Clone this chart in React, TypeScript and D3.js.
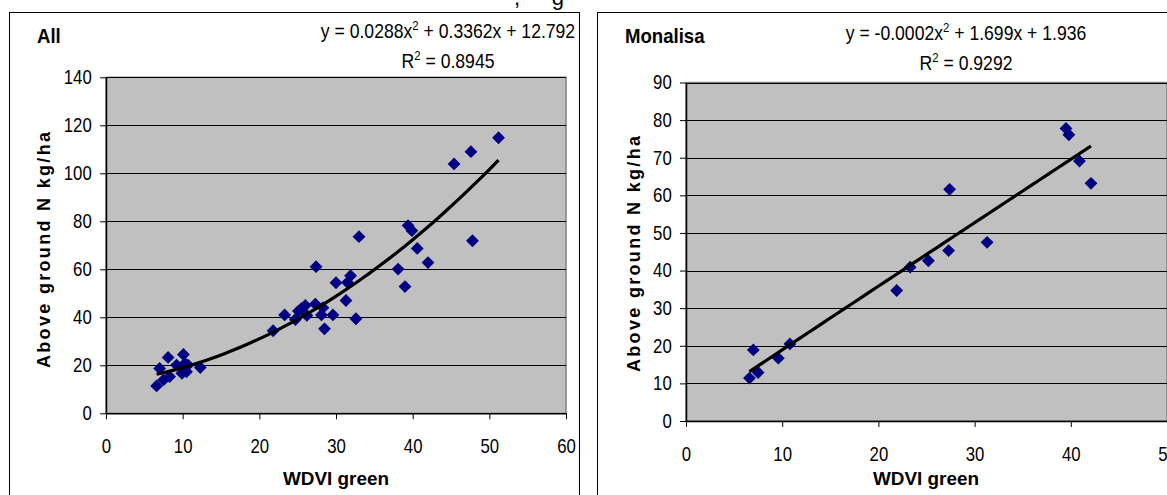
import React, { useEffect, useRef } from 'react';
import * as d3 from 'd3';

// WDVI green vs above ground N
const allWdvi = [6.6, 7.0, 7.5, 8.1, 8.3, 9.2, 9.9, 10.1, 10.3, 10.7, 10.5, 12.3, 21.8, 23.3, 24.7, 25.1, 25.5, 26.0, 26.2, 27.3, 27.4, 28.1, 28.3, 28.5, 29.6, 30.0, 31.3, 31.5, 31.9, 32.6, 33.0, 38.1, 39.0, 39.4, 39.9, 40.6, 42.0, 45.4, 47.6, 47.8, 51.2];
const allN = [11.4, 18.7, 13.9, 23.3, 15.3, 20.1, 16.7, 24.5, 20.8, 20.1, 17.3, 19.1, 34.4, 41.0, 39.1, 42.6, 43.7, 44.9, 40.8, 45.5, 61.1, 41.0, 44.0, 35.2, 41.0, 54.4, 47.0, 54.5, 57.3, 39.4, 73.6, 60.1, 52.8, 78.2, 76.1, 68.7, 62.8, 103.9, 109.0, 71.9, 114.8];

const monaWdvi = [6.6, 7.0, 7.5, 9.6, 10.8, 21.9, 23.3, 25.2, 27.3, 27.4, 31.3, 39.5, 39.8, 40.9, 42.1];
const monaN = [11.4, 18.9, 12.9, 16.7, 20.5, 34.7, 40.9, 42.6, 45.3, 61.6, 47.5, 77.8, 76.1, 69.1, 63.2];

// polynomial trendline coefficients (a x^2 + b x + c) as printed
const allCoef = [0.0288, 0.3362, 12.792];
const monaCoef = [-0.0002, 1.699, 1.936];

const allXTicks = [0, 10, 20, 30, 40, 50, 60];
const allYTicks = [0, 20, 40, 60, 80, 100, 120, 140];
const monaXTicks = [0, 10, 20, 30, 40, 50];
const monaYTicks = [0, 10, 20, 30, 40, 50, 60, 70, 80, 90];

const FONT = "'Liberation Sans', Arial, sans-serif";
const SQUEEZE = 0.84; // the source text is tall and narrow

// text squeezed horizontally around its anchor point
function label(g, x, y, size, sx, anchor = 'start', bold = false) {
  return g.append('text')
    .attr('transform', `translate(${x},${y}) scale(${sx},1)`)
    .attr('text-anchor', anchor)
    .attr('font-family', FONT)
    .attr('font-weight', bold ? 'bold' : 'normal')
    .attr('font-size', size)
    .attr('fill', '#000');
}

function drawPanel(svg, p) {
  const g = svg.append('g');

  // outer chart box
  g.append('rect')
    .attr('x', p.box[0] + 0.5)
    .attr('y', p.box[1] + 0.5)
    .attr('width', p.box[2])
    .attr('height', p.box[3])
    .attr('fill', '#fff')
    .attr('stroke', '#000')
    .attr('stroke-width', 1);

  const x = d3.scaleLinear().domain(p.xDomain).range([p.plot.left, p.plot.right]);
  const y = d3.scaleLinear().domain(p.yDomain).range([p.plot.bottom, p.plot.top]);

  // plot area
  g.append('rect')
    .attr('x', p.plot.left)
    .attr('y', p.plot.top)
    .attr('width', p.plot.right - p.plot.left)
    .attr('height', p.plot.bottom - p.plot.top)
    .attr('fill', '#c0c0c0')
    .attr('stroke', '#808080')
    .attr('stroke-width', 1.5);

  // horizontal gridlines
  g.append('g')
    .selectAll('line')
    .data(p.yTicks.slice(1))
    .join('line')
    .attr('x1', p.plot.left)
    .attr('x2', p.plot.right)
    .attr('y1', d => Math.round(y(d)) + 0.5)
    .attr('y2', d => Math.round(y(d)) + 0.5)
    .attr('stroke', '#000')
    .attr('stroke-width', 1);

  // axes
  const xAxis = g.append('g')
    .attr('transform', `translate(0,${p.plot.bottom})`)
    .call(d3.axisBottom(x).tickValues(p.xTicks).tickSize(6).tickSizeOuter(0).tickPadding(16));
  const yAxis = g.append('g')
    .attr('transform', `translate(${p.plot.left},0)`)
    .call(d3.axisLeft(y).tickValues(p.yTicks).tickSize(6).tickSizeOuter(0).tickPadding(11));

  [xAxis, yAxis].forEach(a => {
    a.attr('font-family', FONT).attr('font-size', 20);
    a.select('.domain').attr('stroke', '#000').attr('stroke-width', 1.5);
    a.selectAll('.tick line').attr('stroke', '#000');
    a.selectAll('.tick text').attr('fill', '#000').attr('transform', `scale(${SQUEEZE},1)`);
  });
  xAxis.selectAll('.tick text').attr('dy', '0.9em');

  // points
  const pts = p.xs.map((v, i) => [v, p.ys[i]]);
  g.append('g')
    .selectAll('path')
    .data(pts)
    .join('path')
    .attr('transform', d => `translate(${x(d[0])},${y(d[1])})`)
    .attr('d', d3.symbol(d3.symbolDiamond2, 105)())
    .attr('fill', '#000080');

  // trendline
  const [a, b, c] = p.coef;
  const x0 = d3.min(p.xs);
  const x1 = d3.max(p.xs);
  const fit = d3.range(0, 41).map(i => {
    const xv = x0 + (x1 - x0) * i / 40;
    return [xv, a * xv * xv + b * xv + c];
  });
  g.append('path')
    .datum(fit)
    .attr('fill', 'none')
    .attr('stroke', '#000')
    .attr('stroke-width', 3.2)
    .attr('stroke-linejoin', 'round')
    .attr('d', d3.line().x(d => x(d[0])).y(d => y(d[1])));

  // chart title
  label(g, p.titleX, 43, 20, 0.93, 'start', true).text(p.title);

  // equation and R2
  const eq = label(g, p.eqX, p.eqY, 20, 0.88, 'middle');
  eq.append('tspan').text(p.eqA);
  eq.append('tspan').attr('dy', -8).attr('font-size', 13).text('2');
  eq.append('tspan').attr('dy', 8).text(p.eqB);

  const r2 = label(g, p.eqX, p.eqY + 30, 20, 0.88, 'middle');
  r2.append('tspan').text('R');
  r2.append('tspan').attr('dy', -8).attr('font-size', 13).text('2');
  r2.append('tspan').attr('dy', 8).text(` = ${p.r2}`);

  // axis titles
  g.append('text')
    .attr('x', p.xTitleX)
    .attr('y', 485)
    .attr('text-anchor', 'middle')
    .attr('font-family', FONT)
    .attr('font-weight', 'bold')
    .attr('font-size', 18)
    .attr('textLength', 106)
    .attr('lengthAdjust', 'spacingAndGlyphs')
    .text('WDVI green');

  g.append('text')
    .attr('transform', `translate(${p.yTitleX},${p.yTitleY}) rotate(-90)`)
    .attr('text-anchor', 'middle')
    .attr('font-family', FONT)
    .attr('font-weight', 'bold')
    .attr('font-size', 18)
    .attr('textLength', 236)
    .attr('lengthAdjust', 'spacing')
    .text('Above ground N kg/ha');
}

export default function App() {
  const svgRef = useRef(null);

  useEffect(() => {
    const svg = d3.select(svgRef.current);
    svg.selectAll('*').remove();

    svg.append('rect').attr('width', 1167).attr('height', 495).attr('fill', '#fff');

    // fragment of the caption line above, cut by the frame
    svg.append('text')
      .attr('x', 514)
      .attr('y', 5)
      .attr('font-family', FONT)
      .attr('font-size', 22)
      .attr('textLength', 50)
      .attr('lengthAdjust', 'spacing')
      .text(', g');

    drawPanel(svg, {
      box: [9, 12, 570, 500],
      plot: { left: 106, right: 566, top: 77.3, bottom: 413.3 },
      xDomain: [0, 60],
      yDomain: [0, 140],
      xTicks: allXTicks,
      yTicks: allYTicks,
      xs: allWdvi,
      ys: allN,
      coef: allCoef,
      title: 'All',
      titleX: 37,
      eqA: 'y = 0.0288x',
      eqB: ' + 0.3362x + 12.792',
      r2: '0.8945',
      eqX: 448,
      eqY: 38,
      xTitleX: 336,
      yTitleX: 50,
      yTitleY: 250
    });

    drawPanel(svg, {
      box: [597, 12, 600, 500],
      plot: { left: 686, right: 1167, top: 82.5, bottom: 421 },
      xDomain: [0, 50],
      yDomain: [0, 90],
      xTicks: monaXTicks,
      yTicks: monaYTicks,
      xs: monaWdvi,
      ys: monaN,
      coef: monaCoef,
      title: 'Monalisa',
      titleX: 625,
      eqA: 'y = -0.0002x',
      eqB: ' + 1.699x + 1.936',
      r2: '0.9292',
      eqX: 966,
      eqY: 40,
      xTitleX: 926,
      yTitleX: 640,
      yTitleY: 254
    });
  }, []);

  return (
    <svg
      ref={svgRef}
      width={1167}
      height={495}
      style={{ position: 'absolute', left: 0, top: 0 }}
    />
  );
}
